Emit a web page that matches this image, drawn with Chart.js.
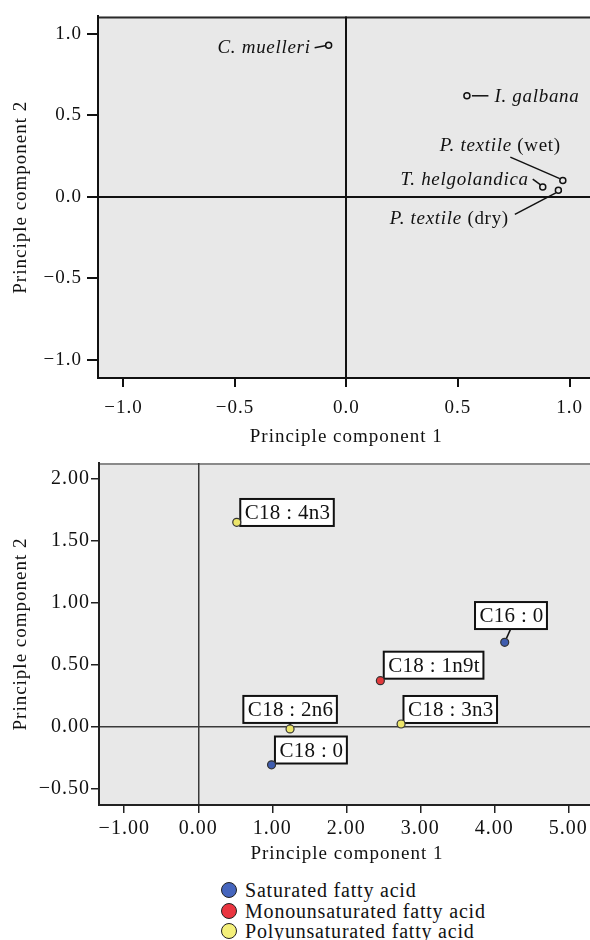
<!DOCTYPE html>
<html>
<head>
<meta charset="utf-8">
<script src="https://cdn.jsdelivr.net/npm/chart.js@4.4.1/dist/chart.umd.min.js"></script>
<style>
  html, body { margin: 0; padding: 0; background: #fff; }
  #page { position: relative; width: 590px; height: 940px; overflow: hidden; }
  #topChart { position: absolute; left: 0; top: 0; }
  #bottomChart { position: absolute; left: 0; top: 450px; }
  #legend { position: absolute; left: 221px; top: 880px; font-family: "Liberation Serif", serif; font-size: 20px; letter-spacing: 0.8px; color: #111; }
  .row { height: 20.5px; line-height: 20.5px; white-space: nowrap; }
  .dot { display: inline-block; width: 14px; height: 14px; border-radius: 50%; border: 1.5px solid #222; vertical-align: -1px; margin-right: 8px; }
</style>
</head>
<body>
<div id="page">
  <canvas id="topChart" width="600" height="450"></canvas>
  <canvas id="bottomChart" width="600" height="420"></canvas>
  <div id="legend"></div>
</div>
<script>
/* ---------- data: species scores (top panel) ---------- */
const speciesNames = ["C. muelleri", "I. galbana", "P. textile (wet)", "T. helgolandica", "P. textile (dry)"];
const speciesPC1 = [-0.08, 0.54, 0.97, 0.88, 0.95];
const speciesPC2 = [0.93, 0.62, 0.10, 0.06, 0.04];

/* ---------- data: fatty acid scores (bottom panel) ---------- */
const acidNames = ["C18 : 0", "C16 : 0", "C18 : 1n9t", "C18 : 2n6", "C18 : 3n3", "C18 : 4n3"];
const acidPC1 = [0.99, 4.14, 2.46, 1.24, 2.74, 0.52];
const acidPC2 = [-0.31, 0.68, 0.37, -0.02, 0.02, 1.65];
const acidType = [0, 0, 1, 2, 2, 2];
const typeNames = ["Saturated fatty acid", "Monounsaturated fatty acid", "Polyunsaturated fatty acid"];

/* ---------- tick labels ---------- */
const topTicks = [-1.0, -0.5, 0.0, 0.5, 1.0];
const bottomXTicks = [-1, 0, 1, 2, 3, 4, 5];
const bottomYTicks = [-0.5, 0, 0.5, 1, 1.5, 2];

const typeColors = ["#3f5cae", "#e23a3c", "#ece56a"];
const legendColors = ["#4565bd", "#ea3540", "#f4f07a"];
const PLOT_BG = "#e8e8e8";
const SERIF = '"Liberation Serif", "Times New Roman", serif';

Chart.defaults.font.family = SERIF;
Chart.defaults.color = "#111";

function fmt(v, d) {
    return (v < 0 ? "\u2212" : "") + Math.abs(v).toFixed(d);
}

// label placement, pixel offsets from the point
const speciesLabelPos = [
    { align: "right", dx: -18, dy: 3, line: [-14, 2.5, -3.5, 0.5] },
    { align: "left", dx: 27.5, dy: 1.5, line: [5, 0, 21.5, 0] },
    { align: "right", dx: -2, dy: -34.5, line: [-52.5, -23.5, -3, -2] },
    { align: "right", dx: -14, dy: -7.5, line: [-10, -8, -2.5, -2.5] },
    { align: "right", dx: -49.5, dy: 29, line: [-43.5, 24, -2.5, 2.5] }
];
const acidLabelPos = [
    { dx: 3.4, dy: -28.3 },
    { dx: -29.7, dy: -40.3, line: [6, -13.5, 1.5, -3.5] },
    { dx: 3.4, dy: -29 },
    { dx: -46.7, dy: -33, line: [0, -6.3, 0, -3] },
    { dx: 2.4, dy: -28 },
    { dx: 3.5, dy: -23.4 }
];

/* =====================================
   shared plugins
===================================== */

const plotBackground = {
    id: "plotBackground",
    beforeDraw(chart, args, opts) {
        const { ctx, chartArea: a } = chart;
        // the reference type is set a little wide
        ctx.letterSpacing = "1px";
        ctx.save();
        ctx.fillStyle = PLOT_BG;
        ctx.fillRect(a.left, a.top, a.right - a.left, a.bottom - a.top);
        ctx.strokeStyle = opts.topColor;
        ctx.lineWidth = 2;
        ctx.beginPath();
        ctx.moveTo(a.left, a.top + 1);
        ctx.lineTo(a.right, a.top + 1);
        ctx.stroke();
        ctx.restore();
    }
};

const speciesLabels = {
    id: "speciesLabels",
    afterDatasetsDraw(chart) {
        const { ctx, scales: { x, y } } = chart;
        ctx.save();
        ctx.letterSpacing = "0.7px";
        ctx.textBaseline = "middle";
        ctx.fillStyle = "#111";
        ctx.strokeStyle = "#111";
        ctx.lineWidth = 1.5;
        speciesNames.forEach((name, i) => {
            const px = x.getPixelForValue(speciesPC1[i]);
            const py = y.getPixelForValue(speciesPC2[i]);
            const pos = speciesLabelPos[i];
            const m = name.match(/^(.*?)(\s*\(.*\))?$/);
            const italicPart = m[1];
            const plainPart = m[2] || "";
            ctx.font = "italic 19px " + SERIF;
            const w1 = ctx.measureText(italicPart).width;
            ctx.font = "19px " + SERIF;
            const w2 = ctx.measureText(plainPart).width;
            let sx = px + pos.dx;
            if (pos.align === "right") sx -= (w1 + w2);
            const ty = py + pos.dy;
            ctx.textAlign = "left";
            ctx.font = "italic 19px " + SERIF;
            ctx.fillText(italicPart, sx, ty);
            ctx.font = "19px " + SERIF;
            ctx.fillText(plainPart, sx + w1, ty);
            const l = pos.line;
            ctx.beginPath();
            ctx.moveTo(px + l[0], py + l[1]);
            ctx.lineTo(px + l[2], py + l[3]);
            ctx.stroke();
        });
        ctx.restore();
    }
};

const acidLabels = {
    id: "acidLabels",
    beforeDatasetsDraw(chart) {
        const { ctx, scales: { x, y } } = chart;
        ctx.save();
        ctx.letterSpacing = "0.3px";
        ctx.font = "21px " + SERIF;
        ctx.textBaseline = "middle";
        ctx.textAlign = "left";
        acidNames.forEach((name, i) => {
            const px = x.getPixelForValue(acidPC1[i]);
            const py = y.getPixelForValue(acidPC2[i]);
            const pos = acidLabelPos[i];
            const w = ctx.measureText(name).width + 8;
            const h = 27;
            const bx = px + pos.dx;
            const by = py + pos.dy;
            if (pos.line) {
                ctx.strokeStyle = "#111";
                ctx.lineWidth = 1.5;
                ctx.beginPath();
                ctx.moveTo(px + pos.line[0], py + pos.line[1]);
                ctx.lineTo(px + pos.line[2], py + pos.line[3]);
                ctx.stroke();
            }
            ctx.fillStyle = "#fff";
            ctx.fillRect(bx, by, w, h);
            ctx.strokeStyle = "#111";
            ctx.lineWidth = 2;
            ctx.strokeRect(bx, by, w, h);
            ctx.fillStyle = "#111";
            ctx.fillText(name, bx + 4.5, by + h / 2 + 1);
        });
        ctx.restore();
    }
};

/* =====================================
   TOP PANEL – species
===================================== */

new Chart(document.getElementById("topChart"), {
    type: "scatter",
    data: {
        datasets: [{
            data: speciesPC1.map((v, i) => ({ x: v, y: speciesPC2[i] })),
            pointRadius: 3,
            pointBorderWidth: 1.5,
            pointBackgroundColor: PLOT_BG,
            pointBorderColor: "#111"
        }]
    },
    options: {
        responsive: false,
        animation: false,
        devicePixelRatio: 1,
        layout: { padding: { top: 12, right: 0, left: 0, bottom: 0 } },
        plugins: {
            legend: { display: false },
            tooltip: { enabled: false },
            plotBackground: { topColor: "#2a2a2a" }
        },
        scales: {
            x: {
                type: "linear",
                min: -1.114, max: 1.112,
                afterBuildTicks: s => { s.ticks = topTicks.map(v => ({ value: v })); },
                afterFit: s => { s.height = 72; },
                grid: {
                    color: c => (c.tick && c.tick.value === 0 ? "#111" : "transparent"),
                    tickColor: "#111",
                    lineWidth: 2,
                    tickLength: 9
                },
                border: { display: true, color: "#111", width: 2 },
                ticks: { padding: 10, font: { size: 19 }, color: "#111", callback: v => fmt(v, 1) },
                title: { display: true, text: "Principle component 1", font: { size: 19 }, color: "#111", padding: { top: 0, bottom: 2 } }
            },
            y: {
                type: "linear",
                min: -1.111, max: 1.107,
                afterBuildTicks: s => { s.ticks = topTicks.map(v => ({ value: v })); },
                afterFit: s => { s.width = 98; },
                grid: {
                    color: c => (c.tick && c.tick.value === 0 ? "#111" : "transparent"),
                    tickColor: "#111",
                    lineWidth: 2,
                    tickLength: 11
                },
                border: { display: true, color: "#111", width: 2 },
                ticks: { padding: 5, font: { size: 19 }, color: "#111", callback: v => fmt(v, 1) },
                title: { display: true, text: "Principle component 2", font: { size: 19 }, color: "#111", padding: { top: 10, bottom: 0 } }
            }
        }
    },
    plugins: [plotBackground, speciesLabels]
});

/* =====================================
   BOTTOM PANEL – fatty acids
===================================== */

const acidDatasets = typeNames.map((t, k) => {
    const idx = acidType.map((tp, i) => (tp === k ? i : -1)).filter(i => i >= 0);
    return {
        label: t,
        data: idx.map(i => ({ x: acidPC1[i], y: acidPC2[i] })),
        pointRadius: 4,
        pointBorderWidth: 1.2,
        pointBackgroundColor: typeColors[k],
        pointBorderColor: "#333"
    };
});

new Chart(document.getElementById("bottomChart"), {
    type: "scatter",
    data: { datasets: acidDatasets },
    options: {
        responsive: false,
        animation: false,
        devicePixelRatio: 1,
        layout: { padding: { top: 11, right: 0, left: 0, bottom: 0 } },
        plugins: {
            legend: { display: false },
            tooltip: { enabled: false },
            plotBackground: { topColor: "#8a8a8a" }
        },
        scales: {
            x: {
                type: "linear",
                min: -1.341, max: 5.357,
                afterBuildTicks: s => { s.ticks = bottomXTicks.map(v => ({ value: v })); },
                afterFit: s => { s.height = 65; },
                grid: {
                    color: c => (c.tick && c.tick.value === 0 ? "#3a3a3a" : "transparent"),
                    tickColor: "#222",
                    lineWidth: 1.5,
                    tickLength: 8
                },
                border: { display: true, color: "#222", width: 2 },
                ticks: { padding: 4, font: { size: 20 }, color: "#111", callback: v => fmt(v, 2) },
                title: { display: true, text: "Principle component 1", font: { size: 19 }, color: "#111", padding: { top: 0, bottom: 5 } }
            },
            y: {
                type: "linear",
                min: -0.635, max: 2.13,
                afterBuildTicks: s => { s.ticks = bottomYTicks.map(v => ({ value: v })); },
                afterFit: s => { s.width = 99; },
                grid: {
                    color: c => (c.tick && c.tick.value === 0 ? "#3a3a3a" : "transparent"),
                    tickColor: "#222",
                    lineWidth: 1.5,
                    tickLength: 8
                },
                border: { display: true, color: "#222", width: 2 },
                ticks: { padding: 1, font: { size: 20 }, color: "#111", callback: v => fmt(v, 2) },
                title: { display: true, text: "Principle component 2", font: { size: 19 }, color: "#111", padding: { top: 10, bottom: 0 } }
            }
        }
    },
    plugins: [plotBackground, acidLabels]
});

/* ---------- legend ---------- */
const legendBox = document.getElementById("legend");
typeNames.forEach((t, k) => {
    const row = document.createElement("div");
    row.className = "row";
    const dot = document.createElement("span");
    dot.className = "dot";
    dot.style.background = legendColors[k];
    row.appendChild(dot);
    row.appendChild(document.createTextNode(t));
    legendBox.appendChild(row);
});
</script>
</body>
</html>
